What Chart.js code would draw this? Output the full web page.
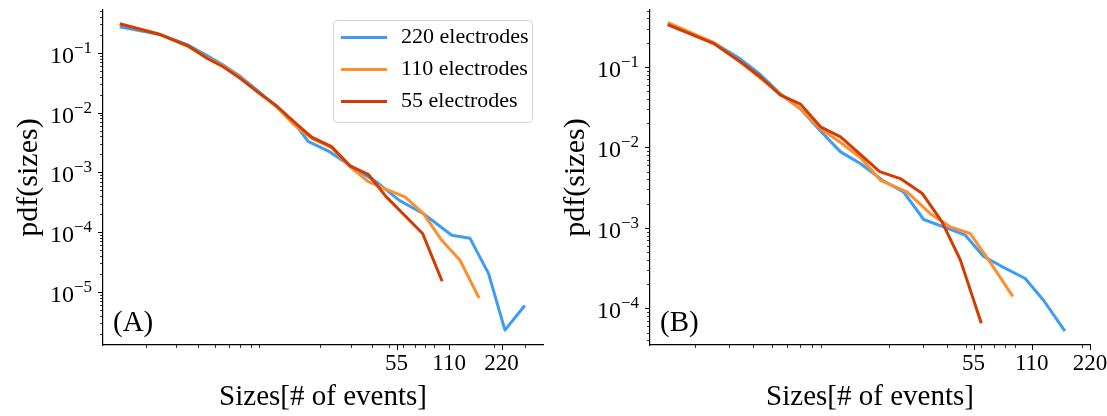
<!DOCTYPE html>
<html>
<head>
<meta charset="utf-8">
<script src="https://cdn.jsdelivr.net/npm/chart.js@4.4.1/dist/chart.umd.min.js"></script>
<style>
  html, body { margin: 0; padding: 0; background: #fff; }
  #wrap { position: relative; width: 1107px; height: 416px; overflow: hidden; }
  canvas { position: absolute; top: 0; }
  #panelA { left: 0; }
  #panelB { left: 553px; }
</style>
</head>
<body>
<div id="wrap">
  <canvas id="panelA" width="553" height="416"></canvas>
  <canvas id="panelB" width="554" height="416"></canvas>
</div>
<script>
// avalanche size distributions, panel A
const sizesA220 = [1.45, 2.45, 3.5, 4.5, 5.6, 7, 9, 11.3, 14, 17.1, 22.8, 29.7, 42, 57, 78, 114, 145, 185, 230, 295];
const pdfA220   = [0.27, 0.20, 0.135, 0.09, 0.062, 0.040, 0.022, 0.0125, 0.0072, 0.0033, 0.0022, 0.0013, 7e-4, 3.4e-4, 2.06e-4, 8.9e-5, 7.9e-5, 2.05e-5, 2.3e-6, 5.7e-6];
const sizesA110 = [1.45, 2.45, 3.5, 4.5, 5.6, 7, 9, 11.3, 14, 17.9, 23.3, 29.7, 37.8, 48, 61.4, 78.2, 99.6, 127, 162];
const pdfA110   = [0.30, 0.20, 0.128, 0.083, 0.060, 0.038, 0.021, 0.0125, 0.0065, 0.0037, 0.0026, 0.00125, 7e-4, 5.2e-4, 3.9e-4, 2.06e-4, 7.4e-5, 3.4e-5, 8.3e-6];
const sizesA55  = [1.45, 2.45, 3.5, 4.5, 5.6, 7, 9, 11.3, 14, 17.9, 23.3, 29.7, 37.8, 48, 77.5, 99.6];
const pdfA55    = [0.30, 0.20, 0.131, 0.081, 0.058, 0.037, 0.021, 0.0129, 0.0073, 0.0039, 0.0027, 0.00129, 9.3e-4, 3.9e-4, 9.5e-5, 1.6e-5];

// panel B
const sizesB220 = [1.47, 2.5, 3.44, 4.36, 5.53, 7.02, 8.9, 11.3, 14.3, 18.6, 23.9, 30.4, 38.5, 49.9, 62, 75.5, 101.7, 126.5, 161.6];
const pdfB220   = [0.33, 0.20, 0.125, 0.080, 0.046, 0.030, 0.016, 0.0088, 0.0063, 0.0039, 0.0028, 0.00127, 0.00103, 8.1e-4, 4.4e-4, 3.4e-4, 2.35e-4, 1.26e-4, 5.4e-5];
const sizesB110 = [1.47, 2.5, 3.44, 4.36, 5.53, 7.02, 8.9, 11.3, 14.3, 18.2, 24.9, 32.9, 41.7, 52.9, 65.8, 86.9];
const pdfB110   = [0.35, 0.20, 0.115, 0.072, 0.046, 0.030, 0.017, 0.0115, 0.0075, 0.0039, 0.0028, 0.0015, 0.00103, 8.5e-4, 4e-4, 1.46e-4];
const sizesB55  = [1.47, 2.5, 3.44, 4.36, 5.53, 7.02, 8.9, 11.3, 14.3, 18, 23, 29.8, 37.8, 47, 60];
const pdfB55    = [0.33, 0.195, 0.115, 0.075, 0.0445, 0.0345, 0.018, 0.0135, 0.0082, 0.005, 0.0041, 0.0027, 0.00119, 4e-4, 6.8e-5];

const seriesLabels = ['220 electrodes', '110 electrodes', '55 electrodes'];
const seriesColors = ['#3d9cf4', '#ff8f2e', '#d23c00'];
const xTickValues = [55, 110, 220];

const SERIF = "'Liberation Serif', 'DejaVu Serif', serif";

// tick marks, power-of-ten labels, panel tag and framed legend
const axisDecor = {
  id: 'axisDecor',
  afterDraw(chart, args, opts) {
    const { ctx, chartArea: a, scales: { x, y } } = chart;
    ctx.save();
    ctx.strokeStyle = '#000';

    const tick = (x0, y0, x1, y1, w) => {
      ctx.lineWidth = w;
      ctx.beginPath();
      ctx.moveTo(x0, y0);
      ctx.lineTo(x1, y1);
      ctx.stroke();
    };

    // x: minor log ticks plus the labelled ones
    for (let e = 0; e <= 3; e++) {
      for (let m = 2; m <= 9; m++) {
        const v = m * Math.pow(10, e);
        if (v < x.min || v > x.max) continue;
        const px = Math.round(x.getPixelForValue(v)) + 0.5;
        tick(px, a.bottom, px, a.bottom + 3, 0.8);
      }
    }
    xTickValues.forEach(v => {
      if (v > x.max * 1.0001) return;
      const px = Math.round(x.getPixelForValue(v)) + 0.5;
      tick(px, a.bottom, px, a.bottom + 5, 1);
    });

    // y: decades and minor ticks
    ctx.fillStyle = '#000';
    ctx.textAlign = 'left';
    ctx.textBaseline = 'alphabetic';
    for (let e = -8; e <= 0; e++) {
      for (let m = 1; m <= 9; m++) {
        const v = m * Math.pow(10, e);
        if (v < y.min || v > y.max) continue;
        const py = Math.round(y.getPixelForValue(v)) + 0.5;
        if (m === 1) {
          tick(a.left, py, a.left - 5, py, 1);
          const base = '10';
          const sup = '\u2212' + (-e);
          ctx.font = '24px ' + SERIF;
          const wb = ctx.measureText(base).width;
          ctx.font = '17px ' + SERIF;
          const ws = ctx.measureText(sup).width;
          const right = a.left - 11;
          ctx.font = '24px ' + SERIF;
          ctx.fillText(base, right - ws - wb, py + 9.5);
          ctx.font = '17px ' + SERIF;
          ctx.fillText(sup, right - ws, py - 0.5);
        } else {
          tick(a.left, py, a.left - 3, py, 0.8);
        }
      }
    }

    // panel tag
    ctx.font = '29px ' + SERIF;
    ctx.textBaseline = 'middle';
    ctx.fillText(opts.tag, a.left + 10, 323);

    // legend
    if (opts.legend) {
      const L = opts.legend;
      ctx.fillStyle = 'rgba(255,255,255,0.8)';
      ctx.strokeStyle = '#d4d4d4';
      ctx.lineWidth = 1;
      ctx.beginPath();
      ctx.roundRect(L.x + 0.5, L.y + 0.5, L.w, L.h, 4);
      ctx.fill();
      ctx.stroke();
      ctx.font = '22px ' + SERIF;
      ctx.textBaseline = 'middle';
      chart.data.datasets.forEach((ds, i) => {
        const ly = L.y + 17.5 + i * 32;
        ctx.strokeStyle = ds.borderColor;
        ctx.lineWidth = 3;
        ctx.beginPath();
        ctx.moveTo(L.x + 8, ly);
        ctx.lineTo(L.x + 54, ly);
        ctx.stroke();
        ctx.fillStyle = '#000';
        ctx.fillText(ds.label, L.x + 68, ly);
      });
    }
    ctx.restore();
  }
};

function makePanel(id, xs, ys, lim, opts) {
  const datasets = xs.map((xv, i) => ({
    label: seriesLabels[i],
    data: xv.map((v, j) => ({ x: v, y: ys[i][j] })),
    borderColor: seriesColors[i],
    backgroundColor: seriesColors[i],
    borderWidth: 3,
    pointRadius: 0,
    showLine: true,
    borderJoinStyle: 'round',
    borderCapStyle: 'square',
    order: xs.length - i
  }));

  return new Chart(document.getElementById(id), {
    type: 'scatter',
    data: { datasets },
    options: {
      responsive: false,
      animation: false,
      devicePixelRatio: 1,
      layout: { padding: { top: 10, right: lim.padRight, bottom: 0, left: 0 } },
      plugins: {
        legend: { display: false },
        tooltip: { enabled: false },
        axisDecor: opts
      },
      scales: {
        x: {
          type: 'logarithmic',
          bounds: 'data',
          min: lim.xmin,
          max: lim.xmax,
          grid: { display: false, drawTicks: false },
          border: { display: true, color: '#000', width: 1.2 },
          afterBuildTicks: s => { s.ticks = xTickValues.map(v => ({ value: v })); },
          afterFit: s => { s.height = 71; s.paddingLeft = 0; s.paddingRight = 0; },
          ticks: {
            autoSkip: false, maxRotation: 0, padding: 7, color: '#000',
            font: { family: SERIF, size: 23, lineHeight: 1 },
            callback: v => String(v)
          },
          title: {
            display: true, text: 'Sizes[# of events]', color: '#000',
            font: { family: SERIF, size: 29, lineHeight: 1 },
            padding: { top: 0, bottom: 4 }
          }
        },
        y: {
          type: 'logarithmic',
          bounds: 'data',
          min: lim.ymin,
          max: lim.ymax,
          grid: { display: false, drawTicks: false },
          border: { display: true, color: '#000', width: 1.2 },
          ticks: { display: false },
          afterFit: s => { s.width = lim.left; },
          title: {
            display: true, text: 'pdf(sizes)', color: '#000',
            font: { family: SERIF, size: 30, lineHeight: 1 },
            padding: { top: lim.titlePad, bottom: 0 }
          }
        }
      }
    },
    plugins: [axisDecor]
  });
}

makePanel('panelA',
  [sizesA220, sizesA110, sizesA55],
  [pdfA220, pdfA110, pdfA55],
  { xmin: 1.14, xmax: 380, ymin: 1.3e-6, ymax: 0.52, left: 103, padRight: 10, titlePad: 14 },
  { tag: '(A)', legend: { x: 333, y: 20, w: 199, h: 102 } });

makePanel('panelB',
  [sizesB220, sizesB110, sizesB55],
  [pdfB220, pdfB110, pdfB55],
  { xmin: 1.17, xmax: 220, ymin: 3.5e-5, ymax: 0.51, left: 97, padRight: 17, titlePad: 8 },
  { tag: '(B)' });
</script>
</body>
</html>
